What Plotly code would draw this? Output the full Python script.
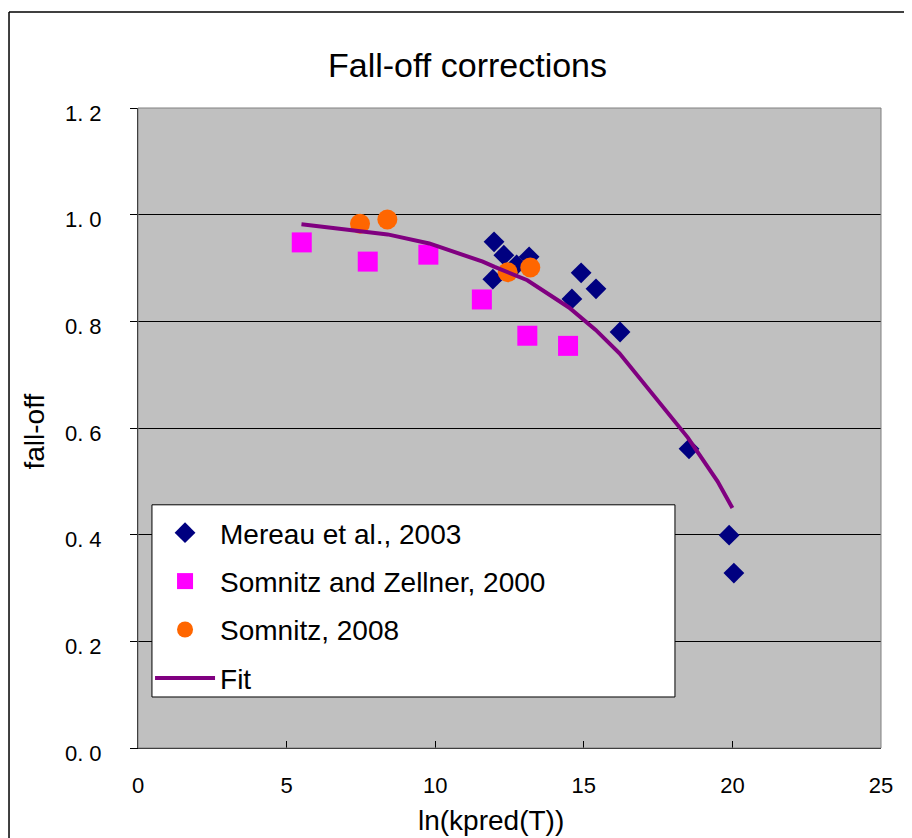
import plotly.graph_objects as go

# Mereau et al., 2003
mereau_x = [11.98, 12.31, 13.16, 12.74, 11.94, 14.91, 15.41, 14.60, 16.22, 18.54, 19.89, 20.05]
mereau_y = [0.949, 0.924, 0.921, 0.906, 0.879, 0.891, 0.861, 0.842, 0.780, 0.561, 0.399, 0.328]

# Somnitz and Zellner, 2000
sz_x = [5.51, 7.73, 9.77, 11.57, 13.10, 14.47]
sz_y = [0.948, 0.912, 0.925, 0.841, 0.773, 0.754]

# Somnitz, 2008
s08_x = [7.47, 8.39, 12.44, 13.20]
s08_y = [0.983, 0.991, 0.892, 0.901]

# Fit
fit_x = [5.5, 7.5, 8.4, 9.8, 11.6, 12.0, 13.1, 14.5, 15.4, 16.2, 17.5, 18.5, 19.5, 20.0]
fit_y = [0.982, 0.970, 0.963, 0.946, 0.912, 0.902, 0.877, 0.826, 0.784, 0.740, 0.652, 0.582, 0.500, 0.450]

y_ticks = [0.0, 0.2, 0.4, 0.6, 0.8, 1.0, 1.2]
y_ticklabels = ["0. 0", "0. 2", "0. 4", "0. 6", "0. 8", "1. 0", "1. 2"]
x_ticks = [0, 5, 10, 15, 20, 25]

FONT = "Liberation Sans, Arial, sans-serif"

fig = go.Figure()
fig.add_trace(go.Scatter(x=mereau_x, y=mereau_y, mode="markers", name="Mereau et al., 2003",
                         legendgroup="a",
                         marker=dict(symbol="diamond", size=16, color="#000080")))
fig.add_trace(go.Scatter(x=sz_x, y=sz_y, mode="markers", name="Somnitz and Zellner, 2000",
                         legendgroup="b",
                         marker=dict(symbol="square", size=20, color="#FF00FF")))
fig.add_trace(go.Scatter(x=s08_x, y=s08_y, mode="markers", name="Somnitz, 2008",
                         legendgroup="c",
                         marker=dict(symbol="circle", size=20, color="#FF6600")))
fig.add_trace(go.Scatter(x=fit_x, y=fit_y, mode="lines", name="Fit",
                         legendgroup="d",
                         line=dict(color="#800080", width=4)))

fig.update_layout(
    width=904, height=830,
    margin=dict(l=130, r=31, t=100, b=90),
    paper_bgcolor="white",
    plot_bgcolor="#C0C0C0",
    font=dict(family=FONT, size=22, color="black"),
    showlegend=True,
    legend=dict(x=0.0162, y=0.375, xanchor="left", yanchor="top",
                bgcolor="rgba(0,0,0,0)", borderwidth=0,
                font=dict(family=FONT, size=28, color="black"),
                traceorder="grouped", tracegroupgap=9,
                itemwidth=60),
    xaxis=dict(range=[0, 25], tickvals=x_ticks, ticks="inside", ticklen=7,
               tickcolor="black", showgrid=False, zeroline=False,
               showline=True, linecolor="black", linewidth=1,
               ticklabelstandoff=18,
               tickfont=dict(family=FONT, size=22, color="black")),
    yaxis=dict(range=[0, 1.2], tickvals=y_ticks, ticktext=y_ticklabels,
               ticks="outside", ticklen=7, tickcolor="black",
               showgrid=True, gridcolor="black", gridwidth=1, zeroline=False,
               showline=True, linecolor="black", linewidth=1,
               ticklabelstandoff=24, ticklabelshift=5,
               tickfont=dict(family=FONT, size=22, color="black")),
    annotations=[
        dict(text="Fall-off corrections", xref="paper", yref="paper", x=0.443, y=1.067,
             xanchor="center", yanchor="middle", showarrow=False,
             font=dict(family=FONT, size=34, color="black")),
        dict(text="ln(kpred(T))", xref="paper", yref="paper", x=0.475, y=-0.113,
             xanchor="center", yanchor="middle", showarrow=False,
             font=dict(family=FONT, size=28, color="black")),
        dict(text="fall-off", xref="paper", yref="paper", x=-0.139, y=0.494,
             xanchor="center", yanchor="middle", showarrow=False, textangle=-90,
             font=dict(family=FONT, size=28, color="black")),
    ],
    shapes=[
        # plot area border (top/right)
        dict(type="rect", xref="paper", yref="paper", x0=0, y0=0, x1=1, y1=1,
             line=dict(color="#808080", width=1), layer="above"),
        # legend box
        dict(type="rect", xref="paper", yref="paper", x0=0.0188, y0=0.0797, x1=0.7227, y1=0.380,
             fillcolor="white", line=dict(color="black", width=1), layer="above"),
        # outer chart border (left and top edges)
        dict(type="line", xref="paper", yref="paper", x0=-0.1736, y0=-0.3, x1=-0.1736, y1=1.15,
             line=dict(color="black", width=1.5)),
        dict(type="line", xref="paper", yref="paper", x0=-0.1736, y0=1.15, x1=1.3, y1=1.15,
             line=dict(color="black", width=1.5)),
    ],
)

fig.write_html("out.html")
